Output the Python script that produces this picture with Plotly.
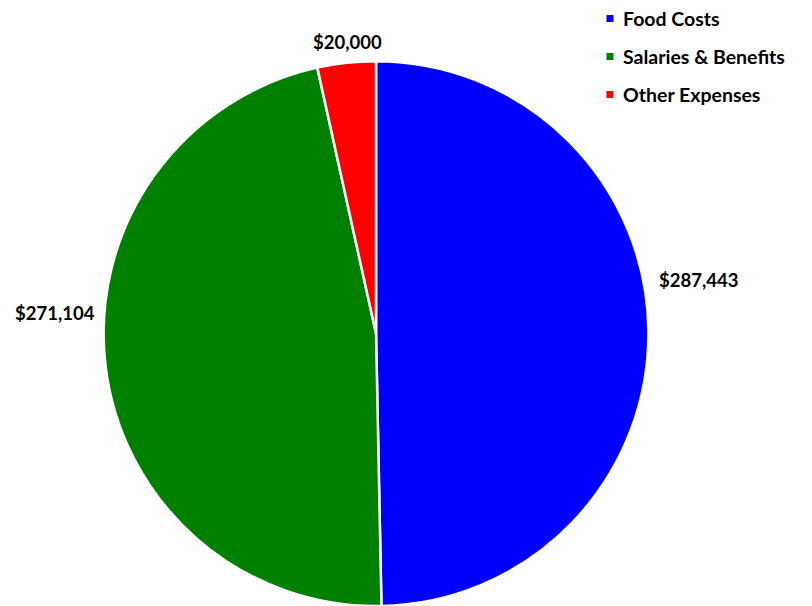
import plotly.graph_objects as go

# Expense breakdown
categories = ["Food Costs", "Salaries & Benefits", "Other Expenses"]
amounts = [287443, 271104, 20000]
colors = ["#0000FF", "#008000", "#FF0000"]

FONT = "Lato, 'Open Sans', sans-serif"

fig = go.Figure(
    go.Pie(
        labels=categories,
        values=amounts,
        sort=False,
        direction="clockwise",
        rotation=0,
        marker=dict(colors=colors, line=dict(color="white", width=2.5)),
        textinfo="none",
        hoverinfo="label+value+percent",
        domain=dict(x=[0.1232, 0.8030], y=[0.0, 0.899]),
        showlegend=False,
    )
)

# Value labels placed beside their slices
label_spots = [
    dict(x=657, y=280, xanchor="left"),
    dict(x=97, y=313, xanchor="right"),
    dict(x=347, y=42, xanchor="center"),
]
for amt, spot in zip(amounts, label_spots):
    fig.add_annotation(
        xref="paper", yref="paper",
        x=spot["x"] / 812, y=1 - spot["y"] / 606,
        xanchor=spot["xanchor"], yanchor="middle", showarrow=False,
        text=f"<b>${amt:,}</b>",
        font=dict(family=FONT, size=18.5, color="black"),
    )

# Legend drawn as colored squares with bold labels
for i, (name, col) in enumerate(zip(categories, colors)):
    yc = 18.5 + 38 * i
    fig.add_shape(
        type="rect", xref="paper", yref="paper",
        x0=606.5 / 812, x1=613.5 / 812,
        y0=1 - (yc + 3.5) / 606, y1=1 - (yc - 3.5) / 606,
        fillcolor=col, line=dict(width=0),
    )
    fig.add_annotation(
        xref="paper", yref="paper", x=621 / 812, y=1 - yc / 606,
        xanchor="left", yanchor="middle", showarrow=False,
        text=f"<b>{name}</b>", font=dict(family=FONT, size=19.5, color="black"),
    )

fig.update_layout(
    width=812, height=606,
    margin=dict(l=0, r=0, t=0, b=0),
    paper_bgcolor="white", plot_bgcolor="white",
)

fig.write_html("out.html")
